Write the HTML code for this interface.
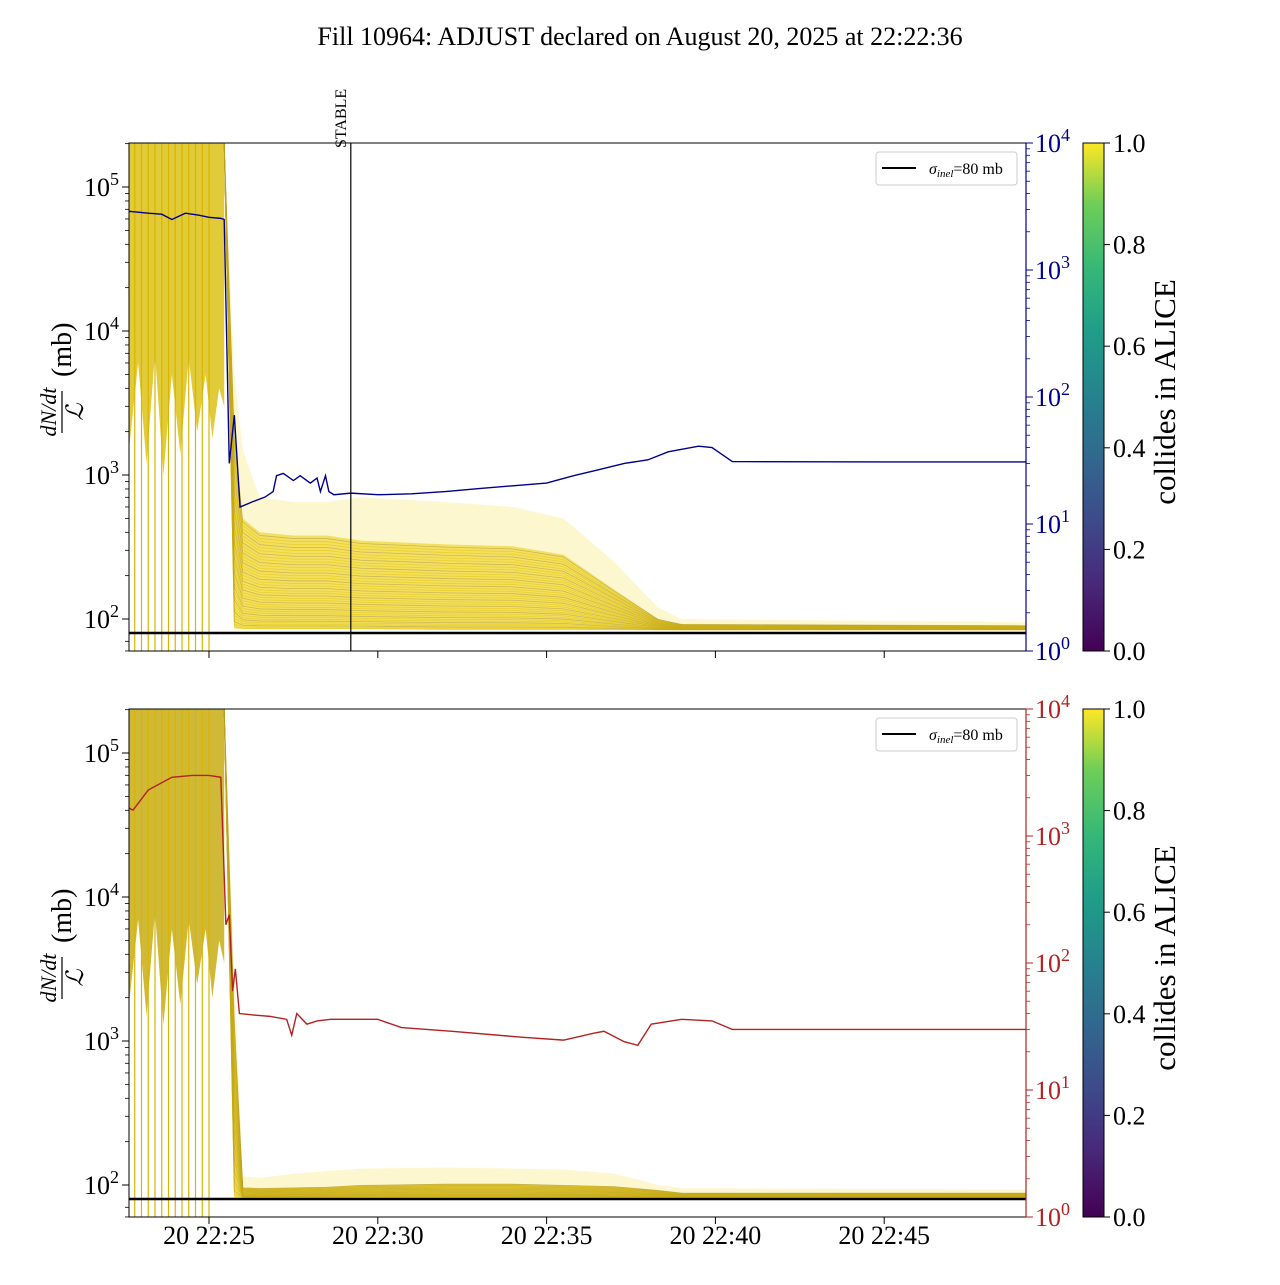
<!DOCTYPE html>
<html><head><meta charset="utf-8"><style>
html,body{margin:0;padding:0;background:#fff;}
svg text{font-family:"Liberation Serif","DejaVu Serif",serif;}
</style></head><body>
<svg id="fig" width="1280" height="1280" viewBox="0 0 1280 1280" xmlns="http://www.w3.org/2000/svg">
<defs>
<linearGradient id="vir" x1="0" y1="1" x2="0" y2="0">
<stop offset="0" stop-color="#440154"/><stop offset="0.13" stop-color="#482878"/><stop offset="0.25" stop-color="#3e4989"/><stop offset="0.38" stop-color="#31688e"/><stop offset="0.5" stop-color="#26828e"/><stop offset="0.63" stop-color="#1f9e89"/><stop offset="0.75" stop-color="#35b779"/><stop offset="0.88" stop-color="#6ece58"/><stop offset="1" stop-color="#fde725"/>
</linearGradient>
<clipPath id="clipTop"><rect x="129" y="143" width="897" height="508"/></clipPath>
<clipPath id="clipBot"><rect x="129" y="709" width="897" height="508"/></clipPath>
</defs>
<text x="640" y="45" font-size="26" text-anchor="middle">Fill 10964: ADJUST declared on August 20, 2025 at 22:22:36</text>
</svg>
<script>
// ---- data (times in minutes after 22:20) ----
const xTickLabels = ["20 22:25","20 22:30","20 22:35","20 22:40","20 22:45"];
const xTickTimes = [25,30,35,40,45];
const leftTickExp = [2,3,4,5];
const rightTickExp = [0,1,2,3,4];
const cbTicks = ["0.0","0.2","0.4","0.6","0.8","1.0"];
const stableTime = 29.2;
const sigmaInel = 80;
// top panel: blue luminosity line (right axis)
const blueT = [22.63,23.2,23.6,23.9,24.3,24.7,25.0,25.35,25.45,25.6,25.75,25.92,26.3,26.66,26.9,27.0,27.2,27.5,27.7,28.0,28.2,28.3,28.45,28.55,28.7,29.2,30.0,31.0,32.0,33.0,34.0,35.0,35.8,36.5,37.3,38.0,38.6,39.5,39.9,40.5,45.0,49.2];
const blueV = [2900,2800,2750,2500,2800,2700,2600,2550,2500,30,72,13.6,15,16.3,18,24,25,22,24,21,23,18,24,18,17,17.5,17,17.3,18,19,20,21,24,26.6,30,32,37,41,40,31,30.8,30.8];
// bottom panel: red luminosity line
const redT = [22.63,22.75,23.2,23.9,24.5,25.0,25.35,25.5,25.6,25.7,25.78,25.9,26.3,26.8,27.3,27.45,27.6,27.9,28.2,28.6,30.0,30.7,32.2,34.3,35.5,36.4,36.7,37.3,37.7,38.1,39.0,39.9,40.5,45,49.2];
const redV = [1660,1600,2300,2900,3000,3000,2900,200,240,60,90,40,39,38,36,27,40,33,35,36,36,31,29,26,24.7,28,29,24,22.5,33,36,35,30,30,30];
// yellow band envelopes
const preT = [22.63,22.9,23.15,23.4,23.65,23.9,24.15,24.4,24.65,24.9,25.1,25.3,25.45];
const preLowTop = [1500,6000,1200,7000,1000,5000,1400,6500,2000,5000,1800,4000,3000];
const preLowBot = [1800,7000,1500,8000,1300,6000,1800,7000,2500,6000,2000,5000,3500];
const postT = [25.45,25.75,26.0,26.5,27.5,28.5,29.5,32.0,34.0,35.5,37.0,38.3,39.0,49.2];
const topLo = [2e5,86,85,85,85,85,85,84,84,84,84,84,84,84];
const topUp = [2e5,2000,500,400,380,380,350,330,320,280,160,100,92,90];
const topFaint = [2e5,5000,1500,700,650,650,700,650,600,500,250,120,100,95];
const botLo = [2e5,82,82,82,82,82,82,82,82,82,82,82,82,82];
const botUp = [2e5,1500,96,95,96,97,100,102,102,100,98,92,88,88];
const botFaint = [2e5,3000,115,112,120,125,130,132,130,128,120,100,95,93];
const dropT = [22.8,23.0,23.2,23.4,23.6,23.8,24.0,24.2,24.4,24.6,24.8,25.0];
</script>
<script>
const NS="http://www.w3.org/2000/svg";
const svg=document.getElementById('fig');
const X0=129,X1=1026,W=897,PH=508;
const tL=22.63,tR=49.2;
function xs(t){return X0+(t-tL)/(tR-tL)*W;}
const LTOP=5+44/144;
function yL(v,top){return top+(LTOP-Math.log10(v))*144;}
function yR(v,top){return top+(4-Math.log10(v))*PH/4;}
function mk(tag,attrs,parent){const e=document.createElementNS(NS,tag);for(const k in attrs)e.setAttribute(k,attrs[k]);(parent||svg).appendChild(e);return e;}

function panel(top,clipId,lo,up,faint,preLow,lineT,lineV,lineColor,name,shade){
  const g=mk('g',{'clip-path':'url(#'+clipId+')'});
  
  
  let pts=[[xs(tL),top]];
  preT.forEach((t,i)=>pts.push([xs(t),yL(preLow[i],top)]));
  pts.push([xs(25.45),top]);
  const pre=mk('polygon',{points:pts.map(p=>p.join(',')).join(' '),fill:'#ecd424','fill-opacity':'0.9'},g);
  
  
  const preDark=mk('polygon',{points:pts.map(p=>p.join(',')).join(' '),fill:'#8a7035','fill-opacity':shade},g);
  
  
  dropT.forEach(t=>{
    const l=mk('line',{x1:xs(t),x2:xs(t),y1:top,y2:top+PH,stroke:'#d9b400','stroke-width':1.2},g);
    
    
  });
  function band(upArr,loArr,fill,op,nm){
    let p=[];postT.forEach((t,i)=>p.push(xs(t)+','+yL(upArr[i],top)));
    for(let i=postT.length-1;i>=0;i--)p.push(xs(postT[i])+','+yL(loArr[i],top));
    const e=mk('polygon',{points:p.join(' '),fill:fill,'fill-opacity':op},g);
    
    
  }
  band(faint,lo,'#fbf0a0',0.5,'faint-band');
  band(up,lo,'#f0d838',0.75,'dense-band');
  const N=40;
  for(let k=1;k<N;k++){
    const f=k/N;
    let p=[];
    for(let i=0;i<postT.length;i++){
      const a=Math.log10(lo[i]),b=Math.log10(up[i]);
      p.push(xs(postT[i])+','+yL(Math.pow(10,a+(b-a)*Math.pow(f,1.3)),top));
    }
    const l=mk('polyline',{points:p.join(' '),fill:'none',stroke:k%3==0?'#7a6a55':'#e0c000','stroke-width':0.8,'stroke-opacity':k%3==0?0.35:0.5},g);
    
    
  }
  const s=mk('line',{x1:X0,x2:X1,y1:yL(sigmaInel,top),y2:yL(sigmaInel,top),stroke:'#000','stroke-width':2.5},g);
  
  
  const lp=mk('polyline',{points:lineT.map((t,i)=>xs(t)+','+yR(lineV[i],top)).join(' '),fill:'none',stroke:lineColor,'stroke-width':1.4},g);
  
  
  const fr=mk('rect',{x:X0,y:top,width:W,height:PH,fill:'none',stroke:'#000','stroke-width':1});
  
  
  leftTickExp.forEach(e=>{
    const y=yL(Math.pow(10,e),top);
    mk('line',{x1:X0-7,x2:X0,y1:y,y2:y,stroke:'#000'});
    for(let m=2;m<10;m++){const yy=yL(m*Math.pow(10,e),top);if(yy>top&&yy<top+PH)mk('line',{x1:X0-4,x2:X0,y1:yy,y2:yy,stroke:'#000','stroke-width':0.8});}
    const t=mk('text',{x:X0-10,y:y+9,'font-size':26,'text-anchor':'end'});
    
    
    t.innerHTML='10<tspan dy="-11" font-size="18">'+e+'</tspan>';
  });
  {const yy=yL(60,top);mk('line',{x1:X0-4,x2:X0,y1:yy,y2:yy,stroke:'#000','stroke-width':0.8});
   const y7=yL(70,top);mk('line',{x1:X0-4,x2:X0,y1:y7,y2:y7,stroke:'#000','stroke-width':0.8});}
  rightTickExp.forEach(e=>{
    const y=yR(Math.pow(10,e),top);
    mk('line',{x1:X1,x2:X1+7,y1:y,y2:y,stroke:lineColor});
    if(e<4)for(let m=2;m<10;m++){const yy=yR(m*Math.pow(10,e),top);mk('line',{x1:X1,x2:X1+4,y1:yy,y2:yy,stroke:lineColor,'stroke-width':0.8});}
    const t=mk('text',{x:X1+9,y:y+9,'font-size':26,fill:lineColor});
    
    
    t.innerHTML='10<tspan dy="-11" font-size="18">'+e+'</tspan>';
  });
  const rs=mk('line',{x1:X1,x2:X1,y1:top,y2:top+PH,stroke:lineColor,'stroke-width':1.2});
  
  
  xTickTimes.forEach(t=>mk('line',{x1:xs(t),x2:xs(t),y1:top+PH,y2:top+PH+7,stroke:'#000'}));
  const yl=mk('g',{transform:'translate(62,'+(top+PH/2-30)+') rotate(-90)'});
  
  
  const t1=mk('text',{x:-45,y:-6,'font-size':22,'font-style':'italic','text-anchor':'middle'},yl);t1.textContent='dN/dt';
  mk('line',{x1:-66,x2:-24,y1:0,y2:0,stroke:'#000','stroke-width':1.2},yl);
  const t2=mk('text',{x:-45,y:21,'font-size':24,'font-style':'italic','text-anchor':'middle'},yl);t2.textContent='ℒ';
  const t3=mk('text',{x:-10,y:9,'font-size':28},yl);t3.textContent='(mb)';
  const lg=mk('g',{});
  
  
  mk('rect',{x:876,y:top+9,width:141,height:33,rx:3,fill:'#fff',stroke:'#ccc'},lg);
  mk('line',{x1:882,x2:916,y1:top+25,y2:top+25,stroke:'#000','stroke-width':2},lg);
  const lt=mk('text',{x:929,y:top+31,'font-size':16},lg);
  lt.innerHTML='<tspan font-style="italic">σ</tspan><tspan font-style="italic" font-size="11" dy="3">inel</tspan><tspan dy="-3">=80 mb</tspan>';
  const cb=mk('rect',{x:1083,y:top,width:21,height:PH,fill:'url(#vir)',stroke:'#000','stroke-width':1});
  
  
  cbTicks.forEach((l,i)=>{
    const y=top+PH-i*PH/5;
    mk('line',{x1:1104,x2:1110,y1:y,y2:y,stroke:'#000'});
    const t=mk('text',{x:1113,y:y+9,'font-size':26});
    
    
    t.textContent=l;
  });
  const ct=mk('text',{x:0,y:0,'font-size':31,'text-anchor':'middle',transform:'translate(1175,'+(top+PH/2-5)+') rotate(-90)'});
  
  
  ct.textContent='collides in ALICE';
}
panel(143,'clipTop',topLo,topUp,topFaint,preLowTop,blueT,blueV,'#00008b','top',0.12);
panel(709,'clipBot',botLo,botUp,botFaint,preLowBot,redT,redV,'#b22222','bottom',0.3);
const sx=xs(stableTime);
const sl=mk('line',{x1:sx,x2:sx,y1:143,y2:651,stroke:'#000','stroke-width':1.2});


const st=mk('text',{x:0,y:0,'font-size':16,transform:'translate('+(sx-5)+',148) rotate(-90)'});


st.textContent='STABLE';
xTickTimes.forEach((t,i)=>{
  const e=mk('text',{x:xs(t),y:1244,'font-size':26,'text-anchor':'middle'});
  
  
  e.textContent=xTickLabels[i];
});
</script>
</body></html>
